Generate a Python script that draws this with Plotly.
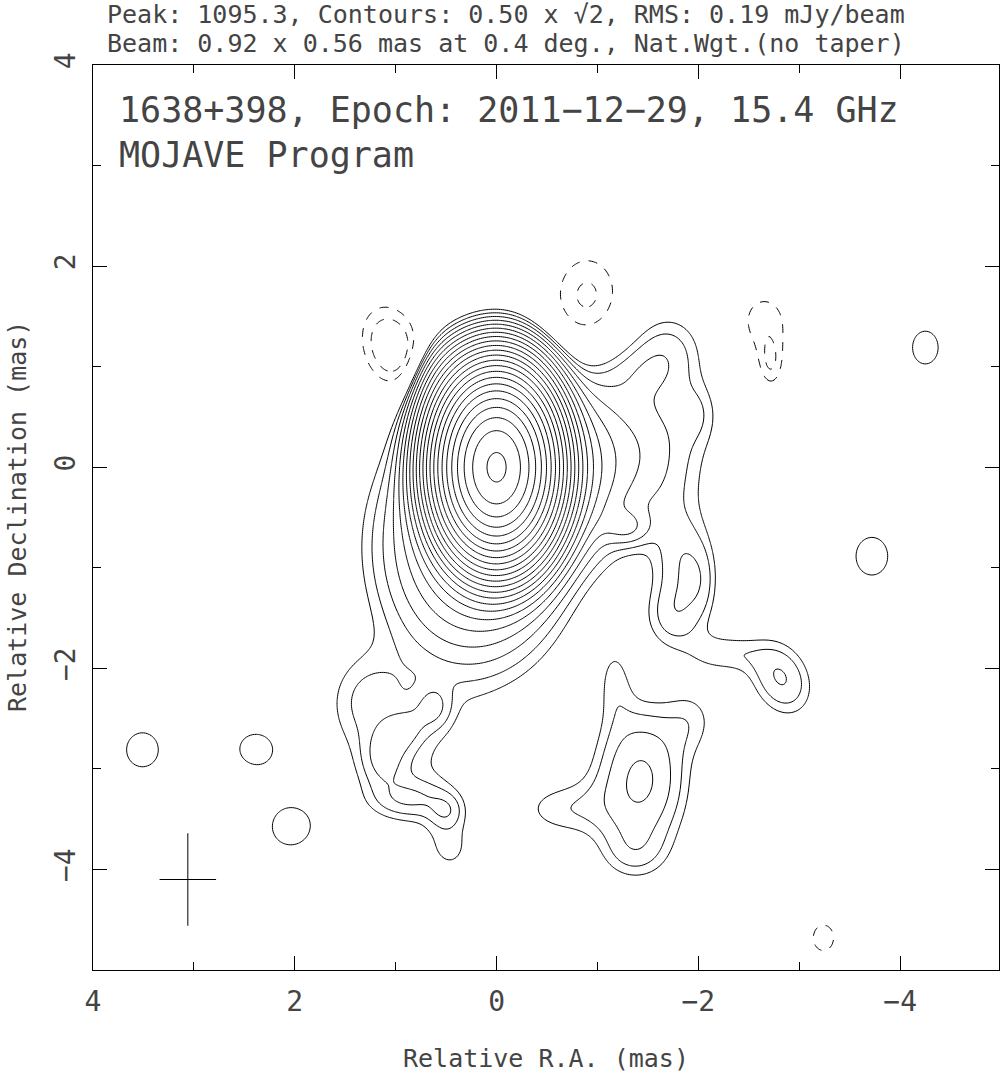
import numpy as np
import plotly.graph_objects as go

# ---- header text values ----
peak_flux = 1095.3
base_contour = 0.50
rms = 0.19
beam_major = 0.92
beam_minor = 0.56
beam_pa = 0.4
source_name = "1638+398"
epoch = "2011\u221212\u221229"
freq = "15.4 GHz"

# ---- clean-map model components (mas, mJy/beam) ----
#            core   NE    halo  Whalo  A3     Aout   A2     A1     R1     L1     L2     Lout   bridge W
comp_x    = [0.00, 0.45, 0.25, -0.75, -1.42, -2.00, -1.40, -1.70, -1.30, -1.85, -1.75, -2.05, -2.25, -2.82,
             # SW complex
             -1.43, -1.17, -0.65, -1.35, -1.95,
             # SE complex
             0.62, 0.92, 1.12, 0.85, 0.50, 0.90, 0.45, 1.30,
             # isolated blobs
             3.51, 2.39, 2.05, -4.25, -3.72,
             # negative blobs
             1.02, -0.90, -2.65, -2.72, -3.24]
comp_y    = [0.00, 0.75, -0.80, 0.00, 0.15, 0.55, 0.95, 1.20, -0.60, -0.95, -1.50, -1.15, -1.85, -2.10,
             -3.10, -2.10, -3.40, -3.85, -2.50,
             -2.38, -2.62, -2.92, -3.30, -3.42, -3.00, -3.80, -2.30,
             -2.81, -2.80, -3.58, 1.19, -0.885,
             1.17, 1.68, 1.45, 1.00, -4.68]
comp_peak = [1093.0, 2.0, 3.5, 2.5, 1.2, 0.35, 0.3, 0.6, 0.8, 0.75, 0.7, 0.4, 0.6, 1.02,
             1.5, 0.45, 0.6, 0.45, 0.45,
             0.62, 0.62, 0.62, 0.62, 0.52, 0.5, 0.45, 0.6,
             0.6, 0.6, 0.6, 0.6, 0.6,
             -1.05, -0.78, -0.62, -0.55, -0.55]
comp_sx   = [0.26, 0.22, 0.55, 0.30, 0.45, 0.15, 0.30, 0.28, 0.15, 0.20, 0.22, 0.12, 0.25, 0.22,
             0.32, 0.13, 0.35, 0.25, 0.20,
             0.12, 0.18, 0.15, 0.25, 0.12, 0.50, 0.20, 0.30,
             0.26, 0.25, 0.27, 0.21, 0.26,
             0.24, 0.30, 0.25, 0.10, 0.23]
comp_sy   = [0.40, 0.30, 0.72, 0.50, 0.60, 0.22, 0.20, 0.28, 0.12, 0.35, 0.25, 0.28, 0.15, 0.30,
             0.50, 0.30, 0.22, 0.20, 0.25,
             0.15, 0.13, 0.20, 0.13, 0.12, 0.55, 0.25, 0.35,
             0.28, 0.23, 0.27, 0.27, 0.31,
             0.36, 0.40, 0.30, 0.20, 0.29]
comp_rot  = [0, 0, 0, 0, 0, 0, 0, 0, 0, 0, 0, 0, 0, -25,
             0, 0, 0, 0, 0,
             0, -40, 0, 0, 0, 0, 0, 0,
             0, 0, 0, 0, 0,
             -20, 0, 0, 0, 0]

# beam marker position (mas)
beam_cx, beam_cy = 3.06, -4.10

# ---- build map on a grid ----
xg = np.arange(4.0, -5.0 - 1e-9, -0.02)
yg = np.arange(-5.0, 4.0 + 1e-9, 0.02)
X, Y = np.meshgrid(xg, yg)
img = np.zeros_like(X)
for cx, cy, p, sx, sy, rot in zip(comp_x, comp_y, comp_peak, comp_sx, comp_sy, comp_rot):
    t = np.deg2rad(rot)
    dx, dy = X - cx, Y - cy
    u = dx * np.cos(t) + dy * np.sin(t)
    v = -dx * np.sin(t) + dy * np.cos(t)
    img += p * np.exp(-0.5 * ((u / sx) ** 2 + (v / sy) ** 2))

step = np.log(np.sqrt(2.0))
nlev = int(np.floor(np.log(peak_flux / base_contour) / step))
zpos = np.round(np.log(np.clip(img, 1e-3, None) / base_contour) / step, 3)
zneg = np.round(np.log(np.clip(-img, 1e-3, None) / base_contour) / step, 3)

fig = go.Figure()
fig.add_trace(go.Contour(x=xg, y=yg, z=zpos, showscale=False, hoverinfo="skip",
                         contours=dict(start=0, end=nlev, size=1, coloring="none"),
                         line=dict(color="black", width=1)))
fig.add_trace(go.Contour(x=xg, y=yg, z=zneg, showscale=False, hoverinfo="skip",
                         contours=dict(start=0, end=1, size=1, coloring="none"),
                         line=dict(color="black", width=1, dash="dash")))

# beam cross
fig.add_trace(go.Scatter(x=[beam_cx + beam_minor / 2, beam_cx - beam_minor / 2, None, beam_cx, beam_cx],
                         y=[beam_cy, beam_cy, None, beam_cy + beam_major / 2, beam_cy - beam_major / 2],
                         mode="lines", line=dict(color="black", width=1), hoverinfo="skip",
                         showlegend=False))

font = "DejaVu Sans Mono"
tcol = "#444"
axis_common = dict(showline=True, linecolor="black", linewidth=1, mirror="ticks",
                   ticks="inside", ticklen=14, tickwidth=1, tickcolor="black",
                   showgrid=False, zeroline=False, dtick=2,
                   tickfont=dict(family=font, size=28, color=tcol),
                   minor=dict(ticks="inside", ticklen=8, dtick=1, tickcolor="black", showgrid=False))

fig.update_layout(
    width=1001, height=1079,
    margin=dict(l=93, r=2, t=65, b=109),
    paper_bgcolor="white", plot_bgcolor="white",
    showlegend=False,
    xaxis=dict(range=[4, -4.98], ticklabelstandoff=6, **axis_common),
    yaxis=dict(range=[-5, 4], tickangle=-90, ticklabelstandoff=6, **axis_common),
)

ann = []
def txt(x, y, s, size, anchor="left", angle=0):
    ann.append(dict(x=x, y=y, xref="paper", yref="paper", text=s, showarrow=False,
                    xanchor=anchor, yanchor="middle", textangle=angle,
                    font=dict(family=font, size=size, color=tcol)))

W, H = 906.0, 905.0
def px(xp): return (xp - 93) / W
def py(yp): return (970 - yp) / H

txt(px(105), py(15), f"Peak: {peak_flux:.1f}, Contours: {base_contour:.2f} x \u221a2, RMS: {rms:.2f} mJy/beam", 25)
txt(px(105), py(43), f"Beam: {beam_major:.2f} x {beam_minor:.2f} mas at {beam_pa:.1f} deg., Nat.Wgt.(no taper)", 25)
txt(px(117), py(110), f"{source_name}, Epoch: {epoch}, {freq}", 35)
txt(px(117), py(155), "MOJAVE Program", 35)
txt(px(546), py(1058), "Relative R.A. (mas)", 25, anchor="center")
txt(px(17), py(517), "Relative Declination (mas)", 25, anchor="center", angle=-90)
fig.update_layout(annotations=ann)

fig.write_html("out.html", config={"displayModeBar": False},
               post_script="document.body.style.margin='0';")
